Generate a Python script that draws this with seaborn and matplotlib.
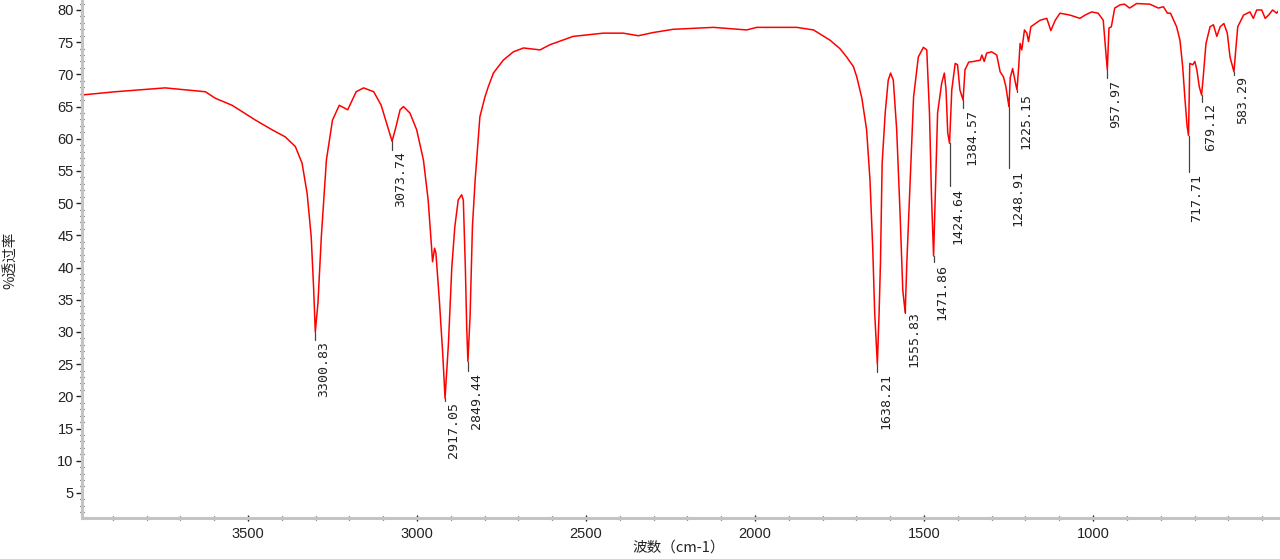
import matplotlib
matplotlib.use("Agg")
import matplotlib.pyplot as plt
import seaborn as sns
import pandas as pd
from matplotlib.ticker import MultipleLocator

# ---- data ----
wavenumber = [
    3991, 3893, 3745, 3626, 3597, 3547, 3478, 3429, 3390, 3360, 3340, 3325, 3313, 3306,
    3300.83, 3293, 3283, 3268, 3250, 3230, 3205, 3180, 3158, 3128, 3106, 3090, 3073.74,
    3062, 3050, 3040, 3021, 3001, 2981, 2967, 2957, 2954, 2948, 2944, 2934, 2924, 2917.05,
    2907, 2897, 2888, 2878, 2868, 2863, 2857, 2853, 2849.44, 2843, 2836, 2828, 2814, 2799,
    2789, 2774, 2745, 2715, 2685, 2636, 2607, 2538, 2449, 2390, 2345, 2301, 2242, 2123,
    2025, 1995, 1877, 1827, 1778, 1749, 1729, 1709, 1699, 1684, 1670, 1660, 1652, 1646,
    1638.21, 1633, 1629, 1624, 1615, 1606, 1599, 1591, 1581, 1571, 1563, 1555.83, 1551,
    1541, 1531, 1517, 1502, 1492, 1484, 1478, 1471.86, 1467, 1460, 1448, 1440, 1435, 1430,
    1424.64, 1418, 1408, 1401, 1394, 1384.57, 1379, 1368, 1354, 1334, 1329, 1322, 1315,
    1300, 1285, 1275, 1265, 1258, 1252, 1248.91, 1245, 1238, 1233, 1229, 1225.15, 1220,
    1216, 1211, 1203, 1196, 1191, 1184, 1157, 1137, 1125, 1112, 1098, 1068, 1039, 1024,
    1004, 985, 970, 963, 957.97, 953, 946, 936, 920, 907, 892, 871, 832, 807, 792, 780,
    771, 753, 743, 735, 728, 722, 717.71, 714, 705, 699, 693, 686, 679.12, 675, 666, 654,
    644, 634, 624, 613, 603, 595, 583.29, 578, 572, 555, 536, 526, 516, 501, 491, 481,
    469, 457, 453,
]
transmittance = [
    66.8, 67.3, 67.9, 67.3, 66.3, 65.2, 62.9, 61.4, 60.3, 58.8, 56.2, 51.5, 44.8, 37.0,
    30.0, 34.5, 44.8, 56.7, 62.9, 65.2, 64.5, 67.3, 67.9, 67.3, 65.2, 62.4, 59.6,
    61.9, 64.5, 65.0, 64.0, 61.4, 56.7, 50.5, 43.2, 40.9, 43.0, 42.2, 35.0, 26.7, 19.7,
    28.2, 40.1, 46.4, 50.5, 51.3, 50.5, 40.1, 30.8, 25.4, 32.4, 46.4, 53.6, 63.4, 66.5,
    68.1, 70.2, 72.2, 73.5, 74.1, 73.8, 74.6, 75.9, 76.4, 76.4, 76.0, 76.5, 77.0, 77.3,
    76.9, 77.3, 77.3, 76.9, 75.3, 74.0, 72.7, 71.2, 69.6, 66.3, 61.4, 53.6, 43.2, 32.9,
    25.0, 33.0, 40.7, 56.2, 64.0, 69.1, 70.2, 69.1, 61.4, 48.4, 36.5, 33.0, 40.7,
    53.6, 66.5, 72.7, 74.2, 73.8, 64.0, 51.0, 41.8, 51.0, 64.0, 68.6, 70.2, 67.6, 60.9,
    59.3, 67.6, 71.7, 71.5, 67.6, 66.0, 70.7, 71.9, 72.0, 72.2, 73.0, 72.0, 73.3,
    73.5, 73.0, 70.4, 69.6, 68.1, 66.0, 65.0, 69.5, 70.9, 69.6, 68.5, 67.6, 71.2,
    74.8, 73.8, 76.9, 76.4, 75.1, 77.4, 78.4, 78.7, 76.8, 78.4, 79.5, 79.2, 78.7, 79.2,
    79.7, 79.5, 78.4, 74.0, 70.7, 77.2, 77.4, 80.3, 80.8, 80.9, 80.3, 81.0, 80.9, 80.3, 80.5, 79.5,
    79.5, 77.4, 75.3, 71.2, 66.0, 62.0, 60.5, 71.7, 71.5, 72.0, 70.7, 68.1, 66.8, 69.1, 74.8, 77.4,
    77.7, 75.9, 77.4, 77.9, 76.4, 72.7, 70.4, 73.8, 77.4, 79.2, 79.7, 78.7, 80.0, 80.0, 78.7, 79.2,
    80.0, 79.5, 79.8,
]

peak_labels = ["3300.83", "3073.74", "2917.05", "2849.44", "1638.21", "1555.83", "1471.86",
               "1424.64", "1384.57", "1248.91", "1225.15", "957.97", "717.71", "679.12", "583.29"]
peak_wn = [3300.83, 3073.74, 2917.05, 2849.44, 1638.21, 1555.83, 1471.86,
           1424.64, 1384.57, 1248.91, 1225.15, 957.97, 717.71, 679.12, 583.29]
peak_T = [30.0, 59.6, 19.7, 25.4, 25.0, 33.0, 41.8, 59.3, 66.0, 65.0, 67.6, 70.7, 60.5, 66.8, 70.4]
label_T = [28.8, 58.3, 19.3, 23.9, 23.8, 33.5, 40.8, 52.6, 64.8, 55.4, 67.3, 69.4, 54.8, 65.7, 69.9]

x_ticks = [3500, 3000, 2500, 2000, 1500, 1000]
y_ticks = list(range(5, 81, 5))

df = pd.DataFrame({"wn": wavenumber, "T": transmittance})

sns.set_theme(style="white")
plt.rcParams["font.family"] = ["Liberation Sans", "Noto Sans CJK SC", "DejaVu Sans"]

fig = plt.figure(figsize=(12.8, 5.59), dpi=100)
ax = fig.add_axes([82 / 1280, 41 / 559, 1196 / 1280, 518 / 559])

sns.lineplot(data=df, x="wn", y="T", ax=ax, color="#ff0000", linewidth=1.1,
             estimator=None, sort=True)

for lab, wx, pt, lt in zip(peak_labels, peak_wn, peak_T, label_T):
    ax.plot([wx, wx], [pt, lt], color="#444444", linewidth=0.9)
    ax.annotate(lab, xy=(wx, lt), xytext=(1.5, -1), textcoords="offset points",
                rotation=90, ha="left", va="top", fontsize=9.5,
                family=["DejaVu Sans Mono"], color="#222222")

ax.set_xlim(3991, 453)
ax.set_ylim(1.1, 81.55)
ax.set_xticks(x_ticks)
ax.set_yticks(y_ticks)
ax.xaxis.set_minor_locator(MultipleLocator(100))
ax.yaxis.set_minor_locator(MultipleLocator(1))
ax.set_xlabel("")
ax.set_ylabel("")

for s in ["top", "right"]:
    ax.spines[s].set_visible(False)
for s in ["left", "bottom"]:
    ax.spines[s].set_color("#c4c4c4")
    ax.spines[s].set_linewidth(2.2)

ax.tick_params(axis="both", which="major", direction="out", length=4, width=1,
               color="#222222", labelsize=10.5, labelcolor="#222222", pad=2,
               left=True, bottom=True)
ax.tick_params(axis="both", which="minor", direction="inout", length=2.5, width=0.9,
               color="#222222", left=True, bottom=True)
ax.tick_params(axis="x", which="major", direction="inout", length=5, pad=4)

fig.text(10 / 1280, 1 - 260 / 559, "%透过率", rotation=90, ha="center", va="center",
         fontsize=10.5, family=["Noto Sans CJK SC", "DejaVu Sans"], color="#222222")
fig.text(679 / 1280, 1 - 548 / 559, "波数（cm-1）", ha="center", va="center",
         fontsize=10.5, family=["Noto Sans CJK SC", "DejaVu Sans"], color="#222222")

fig.savefig("out.png", dpi=100)
